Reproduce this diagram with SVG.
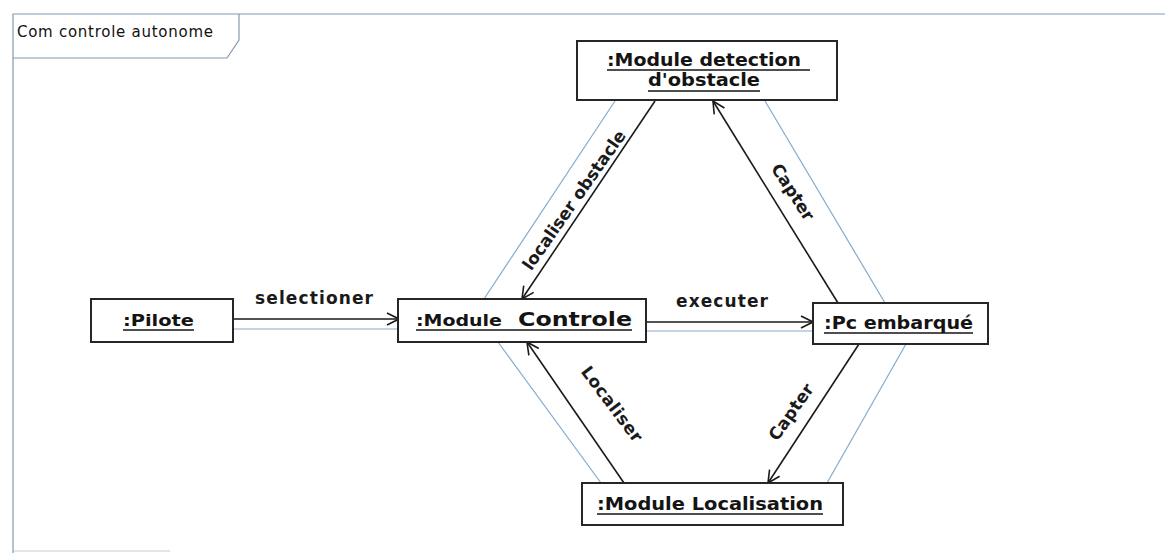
<svg xmlns="http://www.w3.org/2000/svg" width="1165" height="553" viewBox="0 0 1165 553">
  <defs>
    <marker id="open-arrow" markerUnits="userSpaceOnUse" markerWidth="14" markerHeight="14" viewBox="0 0 14 14" refX="13" refY="7" orient="auto">
      <path d="M1,1 L13,7 L1,13" fill="none" stroke="#1a1a1a" stroke-width="1.6"/>
    </marker>
  </defs>
  <style>
    .frame { fill: none; stroke: #7f9cb4; stroke-width: 1.2; }
    .box { fill: #ffffff; stroke: #262626; stroke-width: 2; }
    .name { font-family: "DejaVu Sans", Verdana, sans-serif; font-weight: bold; fill: #141414; }
    .uline { stroke: #141414; stroke-width: 1.6; }
    .link { stroke: #86aacb; stroke-width: 1.2; fill: none; }
    .msg { stroke: #1a1a1a; stroke-width: 1.6; fill: none; marker-end: url(#open-arrow); }
    .label { font-family: "DejaVu Sans", Verdana, sans-serif; font-weight: bold; font-size: 17px; fill: #1a1a1a; }
  </style>

  <rect width="1165" height="553" fill="#ffffff"/>

  <!-- Frame with name tab -->
  <g id="frame">
    <path class="frame" d="M1165,14 L13,14 L13,553"/>
    <path class="frame" d="M13,58 L227,58 L239,40 L239,14"/>
    <path class="frame" d="M13,551 L170,551" opacity="0.5"/>
    <text x="17" y="37" font-family="DejaVu Sans, Verdana, sans-serif" font-size="15" fill="#111" textLength="196" lengthAdjust="spacing">Com controle  autonome</text>
  </g>

  <!-- Links (blue) and messages (black arrows) -->
  <g id="connectors">
    <line class="link" x1="234" y1="329" x2="398" y2="329"/>
    <line class="msg" x1="234" y1="319" x2="399" y2="319"/>

    <line class="link" x1="646" y1="331" x2="813" y2="331"/>
    <line class="msg" x1="646" y1="322" x2="813" y2="322"/>

    <line class="link" x1="615" y1="101" x2="484" y2="299"/>
    <line class="msg" x1="655" y1="101" x2="522" y2="299"/>

    <line class="link" x1="765" y1="101" x2="885" y2="303"/>
    <line class="msg" x1="838" y1="303" x2="713" y2="101"/>

    <line class="link" x1="601" y1="483" x2="498" y2="342"/>
    <line class="msg" x1="624" y1="483" x2="527" y2="342"/>

    <line class="link" x1="827" y1="483" x2="906" y2="344"/>
    <line class="msg" x1="859" y1="344" x2="768" y2="483"/>

    <text class="label" x="255" y="304" textLength="118" lengthAdjust="spacing">selectioner</text>
    <text class="label" x="676" y="307" textLength="92" lengthAdjust="spacing">executer</text>
    <text class="label" transform="translate(574,200) rotate(-55)" x="0" y="6" text-anchor="middle" textLength="166" lengthAdjust="spacing">localiser obstacle</text>
    <text class="label" transform="translate(793,192) rotate(57)" x="0" y="6" text-anchor="middle" textLength="64" lengthAdjust="spacing">Capter</text>
    <text class="label" transform="translate(612,404) rotate(53)" x="0" y="6" text-anchor="middle" textLength="90" lengthAdjust="spacing">Localiser</text>
    <text class="label" transform="translate(791,412) rotate(-55)" x="0" y="6" text-anchor="middle" textLength="65" lengthAdjust="spacing">Capter</text>
  </g>

  <g id="module-detection">
    <rect class="box" x="577" y="41" width="260" height="59"/>
    <text class="name" x="607" y="66" font-size="17" textLength="194" lengthAdjust="spacingAndGlyphs">:Module detection</text>
    <line class="uline" x1="607" y1="70" x2="810" y2="70"/>
    <text class="name" x="648" y="86" font-size="17" textLength="112" lengthAdjust="spacingAndGlyphs">d'obstacle</text>
    <line class="uline" x1="648" y1="91" x2="760" y2="91"/>
  </g>

  <g id="pilote">
    <rect class="box" x="91" y="299" width="142" height="43"/>
    <text class="name" x="123" y="326" font-size="16" textLength="71" lengthAdjust="spacingAndGlyphs">:Pilote</text>
    <line class="uline" x1="123" y1="330" x2="194" y2="330"/>
  </g>

  <g id="module-controle">
    <rect class="box" x="398" y="299" width="248" height="43"/>
    <text class="name" x="416" y="326" font-size="16" textLength="86" lengthAdjust="spacingAndGlyphs">:Module</text>
    <text class="name" x="518" y="326" font-size="20" textLength="114" lengthAdjust="spacingAndGlyphs">Controle</text>
    <line class="uline" x1="416" y1="330" x2="632" y2="330"/>
  </g>

  <g id="pc-embarque">
    <rect class="box" x="813" y="303" width="175" height="41"/>
    <text class="name" x="824" y="329" font-size="17" textLength="149" lengthAdjust="spacingAndGlyphs">:Pc embarqué</text>
    <line class="uline" x1="824" y1="333" x2="973" y2="333"/>
  </g>

  <g id="module-localisation">
    <rect class="box" x="582" y="483" width="261" height="42"/>
    <text class="name" x="597" y="510" font-size="17" textLength="226" lengthAdjust="spacingAndGlyphs">:Module Localisation</text>
    <line class="uline" x1="597" y1="514" x2="823" y2="514"/>
  </g>
</svg>
